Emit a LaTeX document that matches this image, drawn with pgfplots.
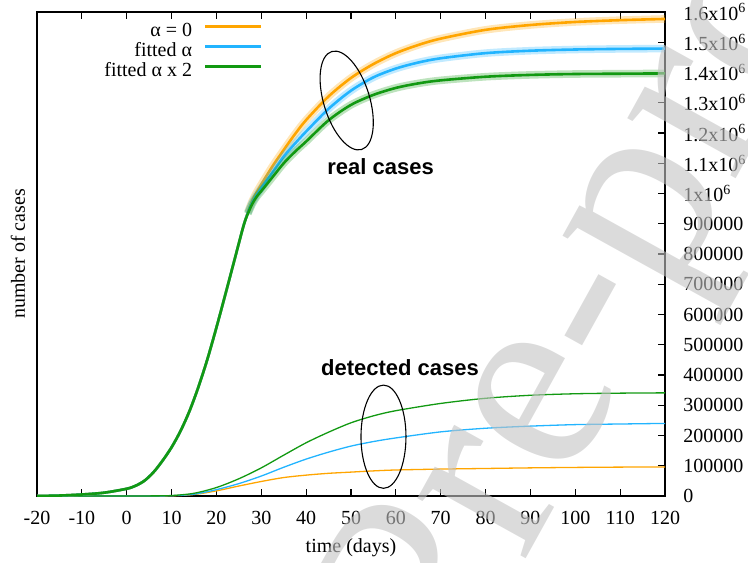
\documentclass[border=0pt]{standalone}
\usepackage{fontspec}
\setmainfont{Liberation Serif}
\newfontfamily\helv{Liberation Sans}
\usepackage{pgfplots}
\pgfplotsset{compat=1.18}
\usepackage{pgfplotstable}
\definecolor{cO}{HTML}{FFA500}
\definecolor{cB}{HTML}{22B4FF}
\definecolor{cG}{HTML}{129912}
\definecolor{wm}{gray}{0.765}

\pgfplotstableread{
day o b g
-20 0 0 0
-15 1500 1500 1500
-10 5000 5000 5000
-5 11000 11000 11000
0 24000 24000 24000
2 34000 34000 34000
4 51000 51000 51000
6 79000 79000 79000
8 117000 117000 117000
10 161000 161000 161000
12 215000 215000 215000
14 281000 281000 281000
16 361000 361000 361000
18 453000 453000 453000
20 557000 557000 557000
22 667000 667000 667000
24 779000 779000 779000
26 891000 891000 891000
27 938000 936000 933000
28 976000 971000 966000
29 1005000 996000 990000
30 1030000 1018000 1008000
32.5 1090000 1070000 1054000
35 1144000 1122000 1100000
37.5 1196000 1165000 1138000
40 1243000 1205000 1172000
45 1321000 1280000 1242000
50 1382000 1340000 1293000
55 1428000 1384000 1326000
60 1464000 1413000 1349000
65 1491000 1433000 1364000
70 1512000 1447000 1374000
80 1541000 1464000 1386000
90 1557000 1472000 1392000
100 1567000 1476000 1395000
110 1573000 1478000 1396000
120 1577000 1479000 1397000
}\realtab

\pgfplotstableread{
day o b g
-20 0 0 0
0 0 0 0
5 200 200 300
10 800 1000 1500
15 5000 6000 9000
20 17000 21000 28000
25 33000 41000 57000
30 48000 66000 93000
35 61000 95000 135000
40 69000 122000 176000
45 75000 145000 211000
50 79000 165000 242000
55 83000 180000 265000
60 86000 192000 282000
70 89000 212000 306000
80 91000 224000 323000
90 93000 231000 333000
100 94500 236000 338000
110 95500 238000 340000
120 96000 240000 341000
}\dettab

\begin{document}
\begin{tikzpicture}
\begin{axis}[
  at={(18.5pt,33pt)}, anchor=south west,
  scale only axis, width=314pt, height=242pt,
  xmin=-20, xmax=120, ymin=0, ymax=1600000,
  axis line style={line width=0.6pt},
  every tick/.style={black, line width=0.6pt},
  major tick length=3.5pt,
  xtick={-20,-10,0,10,20,30,40,50,60,70,80,90,100,110,120},
  xticklabels={-20,-10,0,10,20,30,40,50,60,70,80,90,100,110,120},
  xtick pos=both,
  ytick={0,100000,200000,300000,400000,500000,600000,700000,800000,900000,1000000,1100000,1200000,1300000,1400000,1500000,1600000},
  yticklabels={0,100000,200000,300000,400000,500000,600000,700000,800000,900000,1x10\textsuperscript{6},1.1x10\textsuperscript{6},1.2x10\textsuperscript{6},1.3x10\textsuperscript{6},1.4x10\textsuperscript{6},1.5x10\textsuperscript{6},1.6x10\textsuperscript{6}},
  ytick pos=right, yticklabel pos=right,
  scaled y ticks=false,
  tick label style={font=\fontsize{10}{12}\selectfont},
  xticklabel style={anchor=north, inner sep=0pt, yshift=-7.5pt},
  yticklabel style={anchor=west, inner sep=0pt, xshift=9pt},
  xlabel={time (days)},
  xlabel style={at={(axis description cs:0.5,-0.1074)}, anchor=center, font=\fontsize{10}{12}\selectfont},
  ylabel={number of cases},
  ylabel style={at={(axis description cs:-0.0303,0.5)}, anchor=center, font=\fontsize{10}{12}\selectfont},
  legend style={draw=none, fill=none, at={(0.36,0.979)}, anchor=north east,
    inner sep=0pt, row sep=0pt, column sep=6pt,
    font=\fontsize{10}{12}\selectfont,
    nodes={inner sep=0pt, text height=7pt, text depth=3pt}},
  legend cell align=right,
  legend plot pos=right,
  legend image code/.code={\draw[#1, line width=1.3pt, opacity=1] (0pt,0.3em) -- (28pt,0.3em);},
]
% detected cases
\addplot[cO, line width=0.65pt, smooth, forget plot] table[x=day,y=o]{\dettab};
\addplot[cB, line width=0.65pt, smooth, forget plot] table[x=day,y=b]{\dettab};
\addplot[cG, line width=0.65pt, smooth, forget plot] table[x=day,y=g]{\dettab};
% real cases with bands
\addplot[cO, opacity=0.28, line width=3.8pt, smooth, forget plot, restrict x to domain=27:120] table[x=day,y=o]{\realtab};
\addplot[cO, line width=1.3pt, smooth] table[x=day,y=o]{\realtab};
\addlegendentry{α = 0}
\addplot[cB, opacity=0.28, line width=3.8pt, smooth, forget plot, restrict x to domain=27:120] table[x=day,y=b]{\realtab};
\addplot[cB, line width=1.3pt, smooth] table[x=day,y=b]{\realtab};
\addlegendentry{fitted α}
\addplot[cG, opacity=0.28, line width=3.8pt, smooth, forget plot, restrict x to domain=27:120] table[x=day,y=g]{\realtab};
\addplot[cG, line width=1.3pt, smooth] table[x=day,y=g]{\realtab};
\addlegendentry{fitted α x 2}
% annotations
\draw[line width=0.55pt, rotate around={17:(axis cs:49.04,1307400)}] (axis cs:49.04,1307400) ellipse [x radius=11.5pt, y radius=25.6pt];
\draw[line width=0.55pt] (axis cs:57.24,196000) ellipse [x radius=11.25pt, y radius=25.8pt];
\node[font=\helv\bfseries\fontsize{11}{13}\selectfont] at (axis cs:56.6,1088600) {real cases};
\node[font=\helv\bfseries\fontsize{11}{13}\selectfont] at (axis cs:60.92,424800) {detected cases};
\end{axis}
\node[overlay, rotate=61, anchor=base west, text=wm, text opacity=0.6, inner sep=0pt, font=\fontsize{135}{135}\selectfont] at (16pt,-443.8pt) {Journal Pre-proof};
\pgfresetboundingbox
\path[use as bounding box] (0,0) rectangle (374pt,281pt);
\end{tikzpicture}
\end{document}
